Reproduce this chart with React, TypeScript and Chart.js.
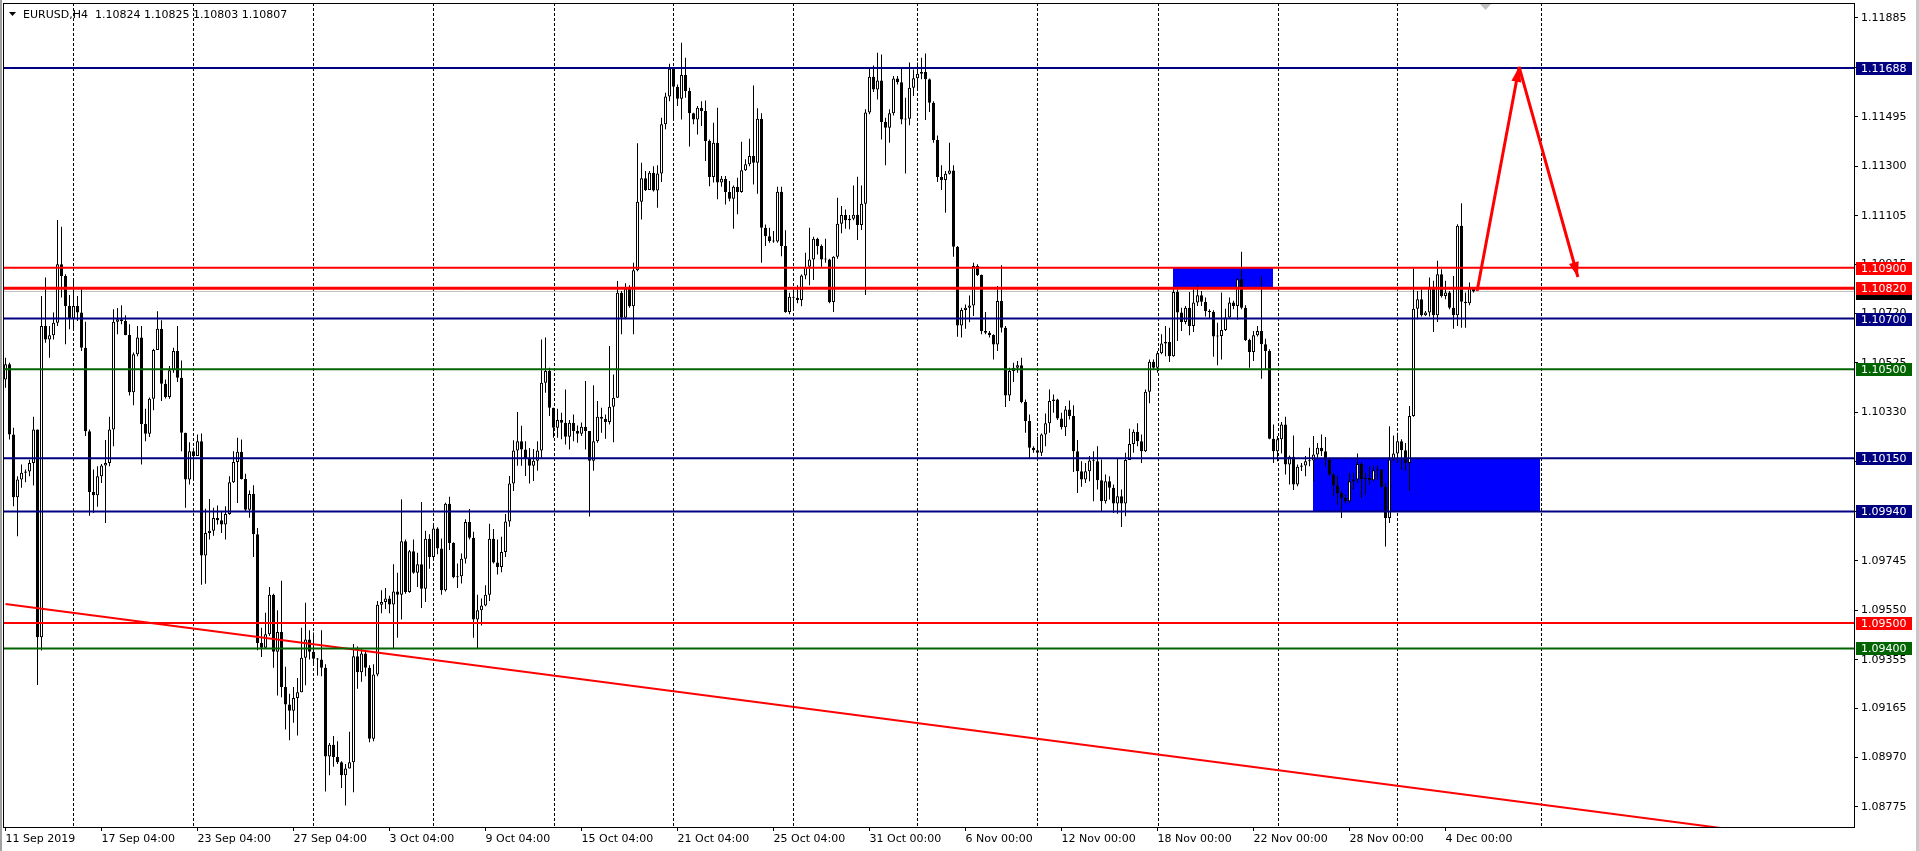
import React, { useEffect, useRef } from 'react';
import { Chart, registerables } from 'chart.js';

Chart.register(...registerables);

// ---------- EURUSD H4 candles (bar index 0 = 11 Sep 2019) ----------
const OPEN = [
1.10460,1.10520,1.10243,1.09996,1.10066,1.10092,1.10097,1.10131,1.10263,1.09444,
1.10671,1.10618,1.10634,1.10684,1.10914,1.10868,1.10750,1.10700,1.10750,1.10724,
1.10585,1.10256,1.10016,1.10004,1.10079,1.10121,1.10131,1.10263,1.10688,1.10697,
1.10691,1.10635,1.10410,1.10559,1.10625,1.10285,1.10246,1.10384,1.10576,1.10660,
1.10443,1.10391,1.10496,1.10572,1.10467,1.10250,1.10066,1.10177,1.10158,1.10217,
1.09766,1.09855,1.09864,1.09914,1.09905,1.09888,1.09930,1.10055,1.10135,1.10175,
1.10068,1.09947,1.10009,1.09850,1.09421,1.09403,1.09456,1.09611,1.09387,1.09465,
1.09248,1.09179,1.09154,1.09204,1.09227,1.09363,1.09435,1.09387,1.09359,1.09356,
1.09324,1.08974,1.09020,1.08972,1.08951,1.08900,1.08927,1.08951,1.09369,1.09306,
1.09380,1.09324,1.09044,1.09297,1.09572,1.09583,1.09597,1.09573,1.09624,1.09611,
1.09822,1.09622,1.09783,1.09698,1.09732,1.09635,1.09832,1.09760,1.09873,1.09794,
1.09629,1.09970,1.09815,1.09680,1.09684,1.09753,1.09898,1.09836,1.09514,1.09550,
1.09569,1.09611,1.09832,1.09739,1.09721,1.09780,1.09900,1.10050,1.10180,1.10217,
1.10184,1.10150,1.10120,1.10140,1.10180,1.10447,1.10493,1.10349,1.10270,1.10300,
1.10289,1.10234,1.10289,1.10257,1.10246,1.10274,1.10257,1.10140,1.10217,1.10313,
1.10305,1.10292,1.10353,1.10388,1.10802,1.10703,1.10818,1.10749,1.10891,1.11161,
1.11253,1.11207,1.11275,1.11205,1.11272,1.11466,1.11575,1.11685,1.11614,1.11567,
1.11660,1.11597,1.11509,1.11485,1.11531,1.11518,1.11400,1.11258,1.11393,1.11236,
1.11251,1.11199,1.11172,1.11220,1.11199,1.11285,1.11308,1.11341,1.11314,1.11488,
1.11058,1.11025,1.11006,1.11004,1.11200,1.10986,1.10726,1.10786,1.10782,1.10773,
1.10870,1.10904,1.10933,1.11015,1.10986,1.10933,1.10933,1.10765,1.10944,1.11074,
1.11108,1.11088,1.11094,1.11109,1.11069,1.11153,1.11512,1.11653,1.11603,1.11639,
1.11475,1.11452,1.11509,1.11646,1.11632,1.11485,1.11488,1.11610,1.11647,1.11665,
1.11672,1.11643,1.11551,1.11404,1.11258,1.11246,1.11271,1.11284,1.10983,1.10673,
1.10734,1.10743,1.10752,1.10907,1.10872,1.10651,1.10644,1.10635,1.10598,1.10769,
1.10664,1.10397,1.10493,1.10506,1.10516,1.10371,1.10296,1.10191,1.10181,1.10171,
1.10243,1.10287,1.10375,1.10381,1.10306,1.10272,1.10342,1.10316,1.10177,1.10098,
1.10066,1.10098,1.10141,1.10138,1.10063,1.09980,1.10059,1.10033,1.09971,1.10000,
1.09971,1.10143,1.10206,1.10254,1.10217,1.10177,1.10412,1.10530,1.10506,1.10563,
1.10602,1.10608,1.10552,1.10805,1.10724,1.10687,1.10743,1.10671,1.10763,1.10792,
1.10766,1.10730,1.10726,1.10629,1.10631,1.10655,1.10704,1.10763,1.10750,1.10855,
1.10743,1.10616,1.10568,1.10634,1.10651,1.10599,1.10572,1.10226,1.10177,1.10224,
1.10283,1.10125,1.10155,1.10046,1.10116,1.10121,1.10138,1.10141,1.10164,1.10191,
1.10177,1.10145,1.10085,1.10042,1.10013,1.09993,1.09980,1.10059,1.10066,1.10127,
1.10068,1.10072,1.10063,1.10102,1.10105,1.10037,1.09914,1.10145,1.10168,1.10217,
1.10181,1.10131,1.10316,1.10739,1.10776,1.10713,1.10724,1.10826,1.10713,1.10875,
1.10789,1.10803,1.10743,1.10713,1.11066,1.10766,1.10760,1.10824
];

const HIGH = [
1.10546,1.10526,1.10270,1.10079,1.10125,1.10105,1.10144,1.10313,1.10263,1.10789,
1.10862,1.10671,1.10724,1.11089,1.11062,1.10875,1.10793,1.10858,1.10789,1.10818,
1.10688,1.10263,1.10105,1.10118,1.10127,1.10221,1.10313,1.10737,1.10742,1.10753,
1.10713,1.10678,1.10566,1.10671,1.10671,1.10345,1.10389,1.10581,1.10729,1.10693,
1.10460,1.10513,1.10585,1.10671,1.10535,1.10250,1.10213,1.10191,1.10243,1.10247,
1.09950,1.09989,1.09954,1.09963,1.09941,1.09960,1.10079,1.10177,1.10230,1.10223,
1.10088,1.10022,1.10043,1.09875,1.09481,1.09541,1.09642,1.09615,1.09550,1.09667,
1.09328,1.09221,1.09248,1.09283,1.09481,1.09580,1.09472,1.09463,1.09362,1.09472,
1.09338,1.09027,1.09055,1.09034,1.08955,1.08944,1.09071,1.09417,1.09407,1.09400,
1.09393,1.09334,1.09338,1.09587,1.09629,1.09638,1.09608,1.09732,1.09698,1.09988,
1.09829,1.09788,1.09829,1.09777,1.09977,1.09864,1.09850,1.09891,1.09878,1.09833,
1.09974,1.09998,1.09818,1.09735,1.09774,1.09909,1.09949,1.09860,1.09611,1.09597,
1.09649,1.09891,1.09871,1.09829,1.09840,1.09930,1.10080,1.10220,1.10332,1.10278,
1.10217,1.10190,1.10186,1.10217,1.10618,1.10625,1.10506,1.10349,1.10345,1.10329,
1.10421,1.10300,1.10322,1.10279,1.10290,1.10454,1.10257,1.10437,1.10375,1.10349,
1.10322,1.10592,1.10480,1.10848,1.10809,1.10839,1.10831,1.10920,1.11391,1.11314,
1.11282,1.11282,1.11301,1.11304,1.11492,1.11590,1.11705,1.11685,1.11623,1.11787,
1.11728,1.11610,1.11511,1.11538,1.11557,1.11560,1.11406,1.11472,1.11531,1.11262,
1.11262,1.11242,1.11225,1.11255,1.11397,1.11328,1.11409,1.11619,1.11529,1.11509,
1.11071,1.11058,1.11045,1.11220,1.11220,1.11048,1.10802,1.10811,1.10831,1.10874,
1.10960,1.11058,1.11023,1.11019,1.10992,1.11015,1.10936,1.10946,1.11176,1.11144,
1.11130,1.11108,1.11225,1.11259,1.11225,1.11525,1.11685,1.11698,1.11748,1.11741,
1.11492,1.11525,1.11656,1.11656,1.11685,1.11571,1.11709,1.11682,1.11709,1.11728,
1.11745,1.11646,1.11557,1.11422,1.11304,1.11282,1.11393,1.11304,1.10986,1.10743,
1.10756,1.10791,1.10920,1.10914,1.10874,1.10726,1.10651,1.10638,1.10828,1.10910,
1.10671,1.10506,1.10526,1.10533,1.10546,1.10381,1.10322,1.10197,1.10234,1.10247,
1.10326,1.10421,1.10401,1.10384,1.10329,1.10355,1.10377,1.10358,1.10221,1.10138,
1.10131,1.10158,1.10177,1.10197,1.10145,1.10085,1.10079,1.10046,1.10147,1.10026,
1.10171,1.10266,1.10263,1.10287,1.10243,1.10421,1.10539,1.10539,1.10572,1.10638,
1.10671,1.10664,1.10826,1.10816,1.10743,1.10750,1.10805,1.10816,1.10831,1.10809,
1.10783,1.10737,1.10733,1.10684,1.10803,1.10739,1.10783,1.10770,1.10858,1.10963,
1.10753,1.10621,1.10651,1.10671,1.10866,1.10621,1.10579,1.10283,1.10237,1.10292,
1.10313,1.10160,1.10239,1.10125,1.10131,1.10158,1.10191,1.10237,1.10210,1.10243,
1.10233,1.10151,1.10092,1.10081,1.10020,1.10006,1.10092,1.10092,1.10168,1.10134,
1.10092,1.10118,1.10121,1.10121,1.10105,1.10050,1.10276,1.10239,1.10250,1.10224,
1.10210,1.10355,1.10897,1.10809,1.10816,1.10730,1.10862,1.10849,1.10928,1.10895,
1.10849,1.10809,1.10868,1.11072,1.11155,1.10803,1.10842,1.10825
];

const LOW = [
1.10427,1.10223,1.09960,1.09842,1.10033,1.10055,1.10079,1.10042,1.09256,1.09392,
1.10605,1.10546,1.10618,1.10671,1.10783,1.10599,1.10658,1.10660,1.10691,1.10572,
1.10237,1.09923,1.09934,1.09958,1.10052,1.09894,1.10118,1.10197,1.10638,1.10678,
1.10634,1.10397,1.10358,1.10552,1.10125,1.10217,1.10233,1.10339,1.10576,1.10375,
1.10385,1.10384,1.10487,1.10450,1.10177,1.09954,1.10046,1.10068,1.10158,1.09651,
1.09655,1.09829,1.09844,1.09888,1.09855,1.09829,1.09927,1.10052,1.09973,1.10066,
1.09940,1.09915,1.09760,1.09393,1.09366,1.09400,1.09449,1.09324,1.09214,1.09207,
1.09080,1.09038,1.09107,1.09057,1.09227,1.09255,1.09356,1.09338,1.09293,1.09290,
1.08836,1.08900,1.08933,1.08944,1.08850,1.08781,1.08927,1.08833,1.09241,1.09269,
1.09290,1.09030,1.09034,1.09290,1.09539,1.09555,1.09539,1.09400,1.09442,1.09514,
1.09615,1.09619,1.09694,1.09642,1.09559,1.09583,1.09714,1.09746,1.09771,1.09611,
1.09624,1.09788,1.09677,1.09638,1.09656,1.09735,1.09829,1.09442,1.09400,1.09490,
1.09566,1.09587,1.09735,1.09691,1.09700,1.09760,1.09880,1.10020,1.10120,1.10120,
1.10080,1.10050,1.10060,1.10100,1.10150,1.10408,1.10316,1.10230,1.10230,1.10224,
1.10204,1.10184,1.10217,1.10211,1.10237,1.10184,1.09920,1.10100,1.10211,1.10250,
1.10226,1.10283,1.10213,1.10388,1.10638,1.10697,1.10743,1.10638,1.10887,1.11091,
1.11203,1.11209,1.11201,1.11137,1.11238,1.11446,1.11557,1.11488,1.11538,1.11485,
1.11571,1.11378,1.11466,1.11426,1.11459,1.11321,1.11222,1.11236,1.11170,1.11220,
1.11150,1.11163,1.11054,1.11111,1.11196,1.11282,1.11301,1.11229,1.11192,1.10920,
1.10986,1.10999,1.10999,1.10999,1.10946,1.10723,1.10717,1.10730,1.10760,1.10749,
1.10855,1.10831,1.10852,1.10953,1.10904,1.10920,1.10760,1.10726,1.10936,1.11036,
1.11054,1.11052,1.11088,1.11010,1.11049,1.10793,1.11505,1.11593,1.11564,1.11406,
1.11304,1.11393,1.11501,1.11623,1.11466,1.11272,1.11462,1.11577,1.11603,1.11643,
1.11483,1.11514,1.11393,1.11238,1.11207,1.11117,1.11268,1.10944,1.10628,1.10625,
1.10660,1.10686,1.10710,1.10868,1.10638,1.10638,1.10625,1.10539,1.10572,1.10645,
1.10352,1.10375,1.10450,1.10487,1.10366,1.10250,1.10151,1.10171,1.10151,1.10158,
1.10197,1.10250,1.10329,1.10300,1.10263,1.10237,1.10302,1.10095,1.10013,1.10037,
1.10052,1.10059,1.09980,1.10026,1.09941,1.09971,1.09987,1.09934,1.09931,1.09879,
1.09921,1.10151,1.10171,1.10197,1.10131,1.10174,1.10366,1.10500,1.10487,1.10559,
1.10552,1.10529,1.10550,1.10612,1.10651,1.10678,1.10634,1.10647,1.10750,1.10750,
1.10708,1.10700,1.10550,1.10516,1.10539,1.10651,1.10700,1.10737,1.10695,1.10737,
1.10612,1.10506,1.10533,1.10629,1.10463,1.10500,1.10224,1.10131,1.10138,1.10168,
1.10085,1.10046,1.10024,1.10039,1.10099,1.10079,1.10118,1.10059,1.10151,1.10158,
1.10118,1.10079,1.10002,1.09967,1.09914,1.09971,1.09974,1.10026,1.10052,1.09993,
1.10006,1.10046,1.10059,1.10066,1.10033,1.09802,1.09894,1.10138,1.10131,1.10105,
1.10099,1.10020,1.10313,1.10697,1.10708,1.10710,1.10708,1.10647,1.10687,1.10783,
1.10776,1.10737,1.10660,1.10671,1.10664,1.10664,1.10753,1.10803
];

const CLOSE = [
1.10520,1.10243,1.09996,1.10066,1.10092,1.10097,1.10131,1.10263,1.09444,1.10671,
1.10618,1.10634,1.10684,1.10914,1.10868,1.10750,1.10700,1.10750,1.10724,1.10585,
1.10256,1.10016,1.10004,1.10079,1.10121,1.10131,1.10263,1.10688,1.10697,1.10691,
1.10635,1.10410,1.10559,1.10625,1.10285,1.10246,1.10384,1.10576,1.10660,1.10443,
1.10391,1.10496,1.10572,1.10467,1.10250,1.10066,1.10177,1.10158,1.10217,1.09766,
1.09855,1.09864,1.09914,1.09905,1.09888,1.09930,1.10055,1.10135,1.10175,1.10068,
1.09947,1.10009,1.09850,1.09421,1.09403,1.09456,1.09611,1.09387,1.09465,1.09248,
1.09179,1.09154,1.09204,1.09227,1.09363,1.09435,1.09387,1.09359,1.09356,1.09324,
1.08974,1.09020,1.08972,1.08951,1.08900,1.08927,1.08951,1.09369,1.09306,1.09380,
1.09324,1.09044,1.09297,1.09572,1.09583,1.09597,1.09573,1.09624,1.09611,1.09822,
1.09622,1.09783,1.09698,1.09732,1.09635,1.09832,1.09760,1.09873,1.09794,1.09629,
1.09970,1.09815,1.09680,1.09684,1.09753,1.09898,1.09836,1.09514,1.09550,1.09569,
1.09611,1.09832,1.09739,1.09721,1.09780,1.09900,1.10050,1.10180,1.10217,1.10184,
1.10150,1.10120,1.10140,1.10180,1.10447,1.10493,1.10349,1.10270,1.10300,1.10289,
1.10234,1.10289,1.10257,1.10246,1.10274,1.10257,1.10140,1.10217,1.10313,1.10305,
1.10292,1.10353,1.10388,1.10802,1.10703,1.10818,1.10749,1.10891,1.11161,1.11253,
1.11207,1.11275,1.11205,1.11272,1.11466,1.11575,1.11685,1.11614,1.11567,1.11660,
1.11597,1.11509,1.11485,1.11531,1.11518,1.11400,1.11258,1.11393,1.11236,1.11251,
1.11199,1.11172,1.11220,1.11199,1.11285,1.11308,1.11341,1.11314,1.11488,1.11058,
1.11025,1.11006,1.11004,1.11200,1.10986,1.10726,1.10786,1.10782,1.10773,1.10870,
1.10904,1.10933,1.11015,1.10986,1.10933,1.10933,1.10765,1.10944,1.11074,1.11108,
1.11088,1.11094,1.11109,1.11069,1.11153,1.11512,1.11653,1.11603,1.11639,1.11475,
1.11452,1.11509,1.11646,1.11632,1.11485,1.11488,1.11610,1.11647,1.11665,1.11672,
1.11643,1.11551,1.11404,1.11258,1.11246,1.11271,1.11284,1.10983,1.10673,1.10734,
1.10743,1.10752,1.10907,1.10872,1.10651,1.10644,1.10635,1.10598,1.10769,1.10664,
1.10397,1.10493,1.10506,1.10516,1.10371,1.10296,1.10191,1.10181,1.10171,1.10243,
1.10287,1.10375,1.10381,1.10306,1.10272,1.10342,1.10316,1.10177,1.10098,1.10066,
1.10098,1.10141,1.10138,1.10063,1.09980,1.10059,1.10033,1.09971,1.10000,1.09971,
1.10143,1.10206,1.10254,1.10217,1.10177,1.10412,1.10530,1.10506,1.10563,1.10602,
1.10608,1.10552,1.10805,1.10724,1.10687,1.10743,1.10671,1.10763,1.10792,1.10766,
1.10730,1.10726,1.10629,1.10631,1.10655,1.10704,1.10763,1.10750,1.10855,1.10743,
1.10616,1.10568,1.10634,1.10651,1.10599,1.10572,1.10226,1.10177,1.10224,1.10283,
1.10125,1.10155,1.10046,1.10116,1.10121,1.10138,1.10141,1.10164,1.10191,1.10177,
1.10145,1.10085,1.10042,1.10013,1.09993,1.09980,1.10059,1.10066,1.10127,1.10068,
1.10072,1.10063,1.10102,1.10105,1.10037,1.09914,1.10145,1.10168,1.10217,1.10181,
1.10131,1.10316,1.10739,1.10776,1.10713,1.10724,1.10826,1.10713,1.10875,1.10789,
1.10803,1.10743,1.10713,1.11066,1.10766,1.10760,1.10824,1.10807
];

// ---------- axes ----------
const X_LABELS = ['11 Sep 2019', '17 Sep 04:00', '23 Sep 04:00', '27 Sep 04:00', '3 Oct 04:00', '9 Oct 04:00',
  '15 Oct 04:00', '21 Oct 04:00', '25 Oct 04:00', '31 Oct 00:00', '6 Nov 00:00', '12 Nov 00:00',
  '18 Nov 00:00', '22 Nov 00:00', '28 Nov 00:00', '4 Dec 00:00'];
const X_LABEL_BARS = [0, 24, 48, 72, 96, 120, 144, 168, 192, 216, 240, 264, 288, 312, 336, 360];
const GRID_BARS = [16.9, 46.9, 76.9, 106.9, 137.1, 166.9, 196.9, 227.9, 257.9, 288.1, 318.1, 347.9, 383.9];
const Y_TICKS = [1.11885, 1.11690, 1.11495, 1.11300, 1.11105, 1.10915, 1.10720, 1.10525, 1.10330,
  1.10135, 1.09940, 1.09745, 1.09550, 1.09355, 1.09165, 1.08970, 1.08775];
const X_MIN = -0.625;
const X_MAX = 462.125;
const Y_MIN = 1.08696;
const Y_MAX = 1.11944;

// ---------- objects ----------
const LEVEL_PRICES = [1.11688, 1.10900, 1.10820, 1.10700, 1.10500, 1.10150, 1.09940, 1.09500, 1.09400];
const LEVEL_COLORS = ['#000080', '#FF0000', '#FF0000', '#000080', '#006400', '#000080', '#000080', '#FF0000', '#006400'];
const LEVEL_WIDTHS = [2, 2, 3, 2, 2, 2, 2, 2, 2];
const BID_PRICE = 1.10807;
const TREND_X = [0, 440];
const TREND_Y = [1.09575, 1.08669];
const ARROW_X = [367.9, 378.4, 393.1];
const ARROW_Y = [1.10809, 1.11692, 1.10864];
const RECT_X1 = [291.9, 326.9];
const RECT_X2 = [316.9, 383.6];
const RECT_Y1 = [1.10820, 1.09940];
const RECT_Y2 = [1.10900, 1.10150];
const HEADER = 'EURUSD,H4  1.10824 1.10825 1.10803 1.10807';

const FAMILY = 'DejaVu Sans';
const FONT = '11px "DejaVu Sans"';

Chart.defaults.font.family = FAMILY;
Chart.defaults.font.size = 11;

function arrowHead(ctx: CanvasRenderingContext2D, x0: number, y0: number, x1: number, y1: number) {
  const a = Math.atan2(y1 - y0, x1 - x0);
  const len = 15;
  const half = 5;
  const bx = x1 - len * Math.cos(a);
  const by = y1 - len * Math.sin(a);
  ctx.beginPath();
  ctx.moveTo(x1, y1);
  ctx.lineTo(bx + half * Math.sin(a), by - half * Math.cos(a));
  ctx.lineTo(bx - half * Math.sin(a), by + half * Math.cos(a));
  ctx.closePath();
  ctx.fill();
}

const overlay = {
  id: 'mt4overlay',
  beforeDatasetsDraw(chart: any) {
    const { ctx, chartArea: a } = chart;
    const xs = chart.scales.x;
    const ys = chart.scales.y;
    ctx.save();
    ctx.strokeStyle = '#000';
    ctx.lineWidth = 1;
    ctx.setLineDash([3, 2]);
    GRID_BARS.forEach((g) => {
      const px = Math.round(xs.getPixelForValue(g)) + 0.5;
      ctx.beginPath();
      ctx.moveTo(px, a.top);
      ctx.lineTo(px, a.bottom);
      ctx.stroke();
    });
    ctx.setLineDash([]);
    ctx.fillStyle = '#0000FF';
    RECT_X1.forEach((_, k) => {
      const x1 = Math.round(xs.getPixelForValue(RECT_X1[k]));
      const x2 = Math.round(xs.getPixelForValue(RECT_X2[k]));
      const y1 = Math.round(ys.getPixelForValue(RECT_Y2[k]));
      const y2 = Math.round(ys.getPixelForValue(RECT_Y1[k]));
      ctx.fillRect(x1, y1, x2 - x1, y2 - y1);
    });
    ctx.restore();
  },
  afterDatasetsDraw(chart: any) {
    const { ctx } = chart;
    const xs = chart.scales.x;
    const ys = chart.scales.y;
    const p = ARROW_X.map((v, i) => [xs.getPixelForValue(v), ys.getPixelForValue(ARROW_Y[i])]);
    ctx.save();
    ctx.fillStyle = '#FF0000';
    arrowHead(ctx, p[0][0], p[0][1], p[1][0], p[1][1]);
    arrowHead(ctx, p[1][0], p[1][1], p[2][0], p[2][1]);
    ctx.restore();
  },
  afterDraw(chart: any) {
    const { ctx, chartArea: a, width, height } = chart;
    const ys = chart.scales.y;
    ctx.save();
    // frame
    ctx.fillStyle = '#A0A0A0';
    ctx.fillRect(0, 0, 2, height);
    ctx.fillStyle = '#C8C8C8';
    ctx.fillRect(width - 3, 0, 3, height);
    ctx.fillStyle = '#000';
    ctx.fillRect(a.left, a.top, 1, a.bottom - a.top);
    ctx.fillRect(a.left, a.top, a.right - a.left, 1);
    // chart shift marker
    ctx.fillStyle = '#C0C0C0';
    ctx.beginPath();
    ctx.moveTo(1480, a.top + 1);
    ctx.lineTo(1491, a.top + 1);
    ctx.lineTo(1485.5, a.top + 7);
    ctx.closePath();
    ctx.fill();
    // price labels
    ctx.font = FONT;
    ctx.textBaseline = 'middle';
    ctx.textAlign = 'left';
    const boxX = a.right + 2;
    const boxW = 56;
    const yb = Math.round(ys.getPixelForValue(BID_PRICE));
    ctx.fillStyle = '#000';
    ctx.fillRect(boxX, yb - 3, boxW, 12);
    LEVEL_PRICES.forEach((pr, k) => {
      const yc = Math.round(ys.getPixelForValue(pr));
      ctx.fillStyle = LEVEL_COLORS[k];
      ctx.fillRect(boxX, yc - 6, boxW, 13);
      ctx.fillStyle = '#FFFFFF';
      ctx.fillText(pr.toFixed(5), boxX + 5, yc + 1);
    });
    // header
    ctx.fillStyle = '#000';
    ctx.beginPath();
    ctx.moveTo(9, 12);
    ctx.lineTo(16, 12);
    ctx.lineTo(12.5, 16);
    ctx.closePath();
    ctx.fill();
    ctx.textBaseline = 'alphabetic';
    ctx.fillText(HEADER, 23, 18);
    ctx.restore();
  },
};

export default function App() {
  const ref = useRef<HTMLCanvasElement>(null);
  useEffect(() => {
    document.body.style.margin = '0';
    const canvas = ref.current!;
    const wicks = CLOSE.map((_, i) => ({ x: i, y: [LOW[i], HIGH[i]] }));
    const bodies = CLOSE.map((c, i) => ({ x: i, y: [OPEN[i], c] }));
    const levelSets = LEVEL_PRICES.map((pr, k) => ({
      type: 'line',
      data: [{ x: X_MIN, y: pr }, { x: X_MAX, y: pr }],
      borderColor: LEVEL_COLORS[k],
      borderWidth: LEVEL_WIDTHS[k],
      pointRadius: 0,
      order: 1,
    }));
    const chart = new Chart(canvas, {
      type: 'bar',
      data: {
        datasets: [
          {
            type: 'line',
            data: ARROW_X.map((v, i) => ({ x: v, y: ARROW_Y[i] })),
            borderColor: '#FF0000',
            borderWidth: 3,
            borderJoinStyle: 'bevel',
            pointRadius: 0,
            order: 0,
          },
          ...levelSets,
          {
            type: 'line',
            data: [{ x: X_MIN, y: BID_PRICE }, { x: X_MAX, y: BID_PRICE }],
            borderColor: '#C0C0C0',
            borderWidth: 1,
            pointRadius: 0,
            order: 4,
          },
          {
            type: 'line',
            data: TREND_X.map((v, i) => ({ x: v, y: TREND_Y[i] })),
            borderColor: '#FF0000',
            borderWidth: 2,
            pointRadius: 0,
            order: 1,
          },
          {
            type: 'bar',
            data: bodies,
            grouped: false,
            categoryPercentage: 1,
            barPercentage: 0.75,
            borderWidth: 1,
            borderColor: '#000',
            borderSkipped: false,
            inflateAmount: 0,
            minBarLength: 1,
            backgroundColor: (c: any) => (CLOSE[c.dataIndex] >= OPEN[c.dataIndex] ? '#FFFFFF' : '#000000'),
            order: 2,
          },
          {
            type: 'bar',
            data: wicks,
            grouped: false,
            categoryPercentage: 1,
            barPercentage: 0.25,
            borderWidth: 0,
            inflateAmount: 0,
            backgroundColor: '#000',
            order: 3,
          },
        ] as any,
      },
      options: {
        responsive: false,
        animation: false,
        devicePixelRatio: 1,
        events: [],
        layout: { padding: { left: 3, top: 3, right: 0, bottom: 0 }, autoPadding: false },
        plugins: { legend: { display: false }, tooltip: { enabled: false } },
        scales: {
          x: {
            type: 'linear',
            min: X_MIN,
            max: X_MAX,
            offset: false,
            afterBuildTicks: (s: any) => { s.ticks = X_LABEL_BARS.map((v) => ({ value: v })); },
            afterFit: (s: any) => { s.height = 24; s.paddingLeft = 0; s.paddingRight = 0; s.paddingTop = 0; s.paddingBottom = 0; },
            ticks: {
              autoSkip: false,
              maxRotation: 0,
              minRotation: 0,
              align: 'start',
              padding: 2,
              color: '#000',
              font: { family: FAMILY, size: 11 },
              callback: (_v: any, i: number) => X_LABELS[i],
            },
            grid: { drawOnChartArea: false, drawTicks: true, tickLength: 4, tickColor: '#000', offset: false },
            border: { display: true, color: '#000', width: 1 },
          },
          y: {
            type: 'linear',
            position: 'right',
            min: Y_MIN,
            max: Y_MAX,
            afterBuildTicks: (s: any) => { s.ticks = Y_TICKS.map((v) => ({ value: v })); },
            afterFit: (s: any) => { s.width = 65; s.paddingTop = 0; s.paddingBottom = 0; s.paddingLeft = 0; s.paddingRight = 0; },
            ticks: {
              autoSkip: false,
              crossAlign: 'near',
              padding: 3,
              color: '#000',
              font: { family: FAMILY, size: 11 },
              callback: (v: any) => Number(v).toFixed(5),
            },
            grid: { drawOnChartArea: false, drawTicks: true, tickLength: 4, tickColor: '#000' },
            border: { display: true, color: '#000', width: 1 },
          },
        },
      } as any,
      plugins: [overlay],
    });
    return () => chart.destroy();
  }, []);
  return (
    <div style={{ position: 'fixed', left: 0, top: 0, width: 1919, height: 851, background: '#fff' }}>
      <canvas ref={ref} width={1919} height={851} style={{ width: 1919, height: 851, display: 'block' }} />
    </div>
  );
}
